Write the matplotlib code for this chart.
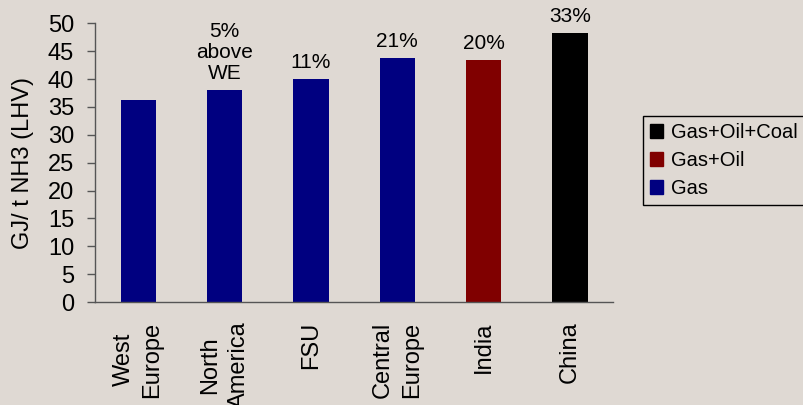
import matplotlib.pyplot as plt
from matplotlib.patches import Patch

plt.rcParams['font.family'] = ['Liberation Sans', 'DejaVu Sans']

# energy use per tonne of ammonia by region
regions = ['West\nEurope', 'North\nAmerica', 'FSU', 'Central\nEurope', 'India', 'China']
energy = [36.2, 38.0, 40.0, 43.8, 43.4, 48.3]
feedstock = ['Gas', 'Gas', 'Gas', 'Gas', 'Gas+Oil', 'Gas+Oil+Coal']
vs_west = ['', '5%\nabove\nWE', '11%', '21%', '20%', '33%']

fuel_colors = {'Gas+Oil+Coal': '#000000', 'Gas+Oil': '#800000', 'Gas': '#000080'}
bg = '#DFD9D3'

fig = plt.figure(figsize=(8.04, 4.05), dpi=100, facecolor=bg)
ax = fig.add_axes([0.1182, 0.2543, 0.6446, 0.6882], facecolor=bg)

x = range(len(regions))
ax.bar(x, energy, width=0.41, color=[fuel_colors[f] for f in feedstock])

for i, (v, txt) in enumerate(zip(energy, vs_west)):
    if txt:
        ax.annotate(txt, (i, v), xytext=(0, 5), textcoords='offset points',
                    ha='center', va='bottom', fontsize=15, linespacing=1.15)

ax.set_xlim(-0.5, len(regions) - 0.5)
ax.set_ylim(0, 50)
ax.set_yticks(range(0, 51, 5))
ax.set_xticks(list(x))
ax.set_xticklabels(regions, rotation=90, fontsize=17, linespacing=1.4,
                   va='top', ha='center')
ax.tick_params(axis='x', length=0, pad=14)
ax.tick_params(axis='y', length=6, width=1, color='#555555', labelsize=17, pad=9)
ax.set_ylabel('GJ/ t NH3 (LHV)', fontsize=17, labelpad=10)

for side in ['top', 'right']:
    ax.spines[side].set_visible(False)
for side in ['left', 'bottom']:
    ax.spines[side].set_color('#555555')
    ax.spines[side].set_linewidth(1)

handles = [Patch(color=fuel_colors[k]) for k in fuel_colors]
leg = fig.legend(handles, list(fuel_colors), loc='upper left',
                 bbox_to_anchor=(643 / 804, 1 - 116 / 405), fontsize=14.5,
                 frameon=True, fancybox=False, edgecolor='black', facecolor=bg,
                 framealpha=1, handlelength=0.65, handleheight=0.65,
                 handletextpad=0.4, borderpad=0.35, labelspacing=0.45,
                 borderaxespad=0)
leg.get_frame().set_linewidth(1)

fig.savefig('out.png', dpi=100, facecolor=bg)
